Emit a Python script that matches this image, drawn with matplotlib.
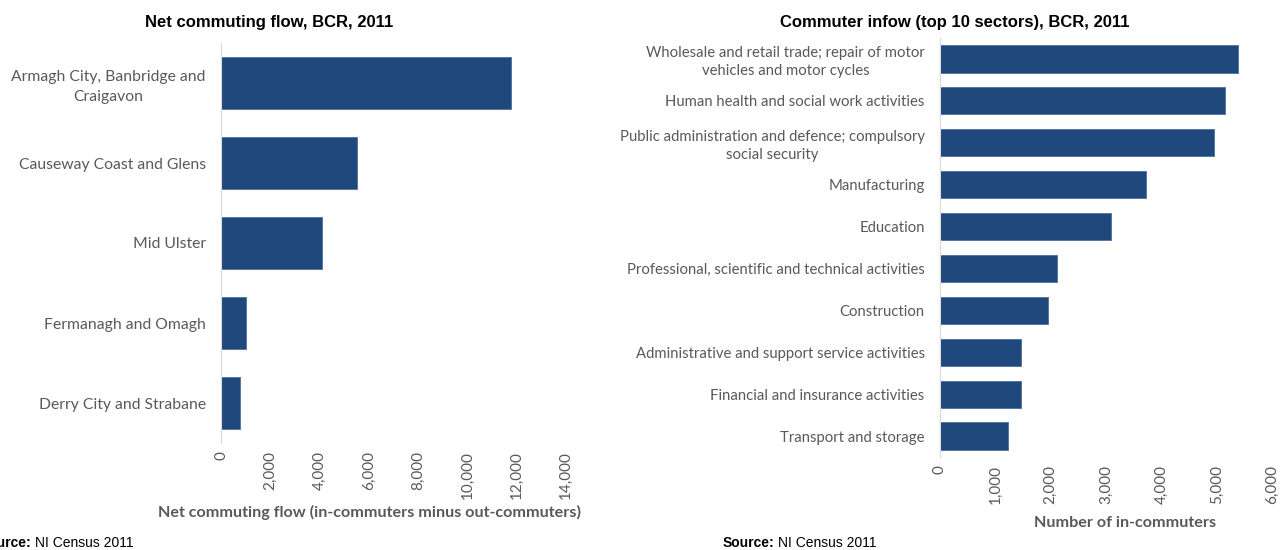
import matplotlib
matplotlib.use("Agg")
import matplotlib.pyplot as plt
from matplotlib.ticker import FuncFormatter

# net commuting flow by council area
councils = ["Armagh City, Banbridge and\nCraigavon", "Causeway Coast and Glens",
            "Mid Ulster", "Fermanagh and Omagh", "Derry City and Strabane"]
net_flow = [11750, 5500, 4100, 1000, 770]

# in-commuters by industry sector (top 10)
sectors = ["Wholesale and retail trade; repair of motor\nvehicles and motor cycles",
           "Human health and social work activities",
           "Public administration and defence; compulsory\nsocial security",
           "Manufacturing",
           "Education",
           "Professional, scientific and technical activities",
           "Construction",
           "Administrative and support service activities",
           "Financial and insurance activities",
           "Transport and storage"]
in_commuters = [5390, 5150, 4960, 3730, 3090, 2120, 1960, 1470, 1470, 1230]

bar_col = "#1f497d"
tick_col = "#595959"
body_font = "Lato"
head_font = "Liberation Sans"

W, H = 1287, 550
fig = plt.figure(figsize=(W / 100, H / 100), dpi=100)

thousands = FuncFormatter(lambda v, p: f"{int(v):,}")


def style_axis(ax, labels, size, lspace):
    ax.invert_yaxis()
    for s in ["top", "right", "bottom"]:
        ax.spines[s].set_visible(False)
    ax.spines["left"].set_color("#d9d9d9")
    ax.tick_params(axis="both", length=0, colors=tick_col)
    ax.tick_params(axis="y", pad=11)
    ax.tick_params(axis="x", pad=6)
    ax.xaxis.set_major_formatter(thousands)
    for lab in ax.get_xticklabels():
        lab.set_rotation(90)
        lab.set_fontfamily(body_font)
        lab.set_fontsize(11)
    ax.set_yticks(range(len(labels)))
    ax.set_yticklabels(labels, fontfamily=body_font, fontsize=size,
                       multialignment="center", linespacing=lspace)


# left panel
ax1 = fig.add_axes([221 / W, 107 / H, 345 / W, 400 / H])
ax1.barh(range(len(councils)), net_flow, height=0.66, color=bar_col,
         edgecolor="#4f6f9f", linewidth=0.6)
ax1.set_xlim(0, 14000)
ax1.set_ylim(-0.5, len(councils) - 0.5)
ax1.set_xticks(range(0, 14001, 2000))
style_axis(ax1, councils, 11.3, 1.5)
ax1.set_xlabel("Net commuting flow (in-commuters minus out-commuters)",
               fontfamily=body_font, fontsize=11.6, fontweight="bold",
               color=tick_col)
ax1.xaxis.set_label_coords(0.429, -0.155)

# right panel
ax2 = fig.add_axes([940 / W, 93 / H, 332 / W, 419 / H])
ax2.barh(range(len(sectors)), in_commuters, height=0.65, color=bar_col,
         edgecolor="#4f6f9f", linewidth=0.6)
ax2.set_xlim(0, 6000)
ax2.set_ylim(-0.5, len(sectors) - 0.5)
ax2.set_xticks(range(0, 6001, 1000))
style_axis(ax2, sectors, 10.7, 1.3)
ax2.set_xlabel("Number of in-commuters", fontfamily=body_font, fontsize=11.6,
               fontweight="bold", color=tick_col)
ax2.xaxis.set_label_coords(0.557, -0.14)

# titles
fig.text(269 / W, 1 - 23 / H, "Net commuting flow, BCR, 2011",
         ha="center", va="center", fontfamily=head_font, fontsize=12,
         fontweight="bold")
fig.text(955 / W, 1 - 23 / H, "Commuter infow (top 10 sectors), BCR, 2011",
         ha="center", va="center", fontfamily=head_font, fontsize=12,
         fontweight="bold")

# source notes: bold prefix followed by plain text
renderer = fig.canvas.get_renderer()
for x in [-20, 723]:
    t = fig.text(x / W, 1 - 543 / H, "Source:", ha="left", va="center",
                 fontfamily=head_font, fontsize=10, fontweight="bold")
    bb = t.get_window_extent(renderer=renderer)
    fig.text((bb.x1 + 3) / W, 1 - 543 / H, "NI Census 2011", ha="left",
             va="center", fontfamily=head_font, fontsize=10)

fig.savefig("out.png", dpi=100)
